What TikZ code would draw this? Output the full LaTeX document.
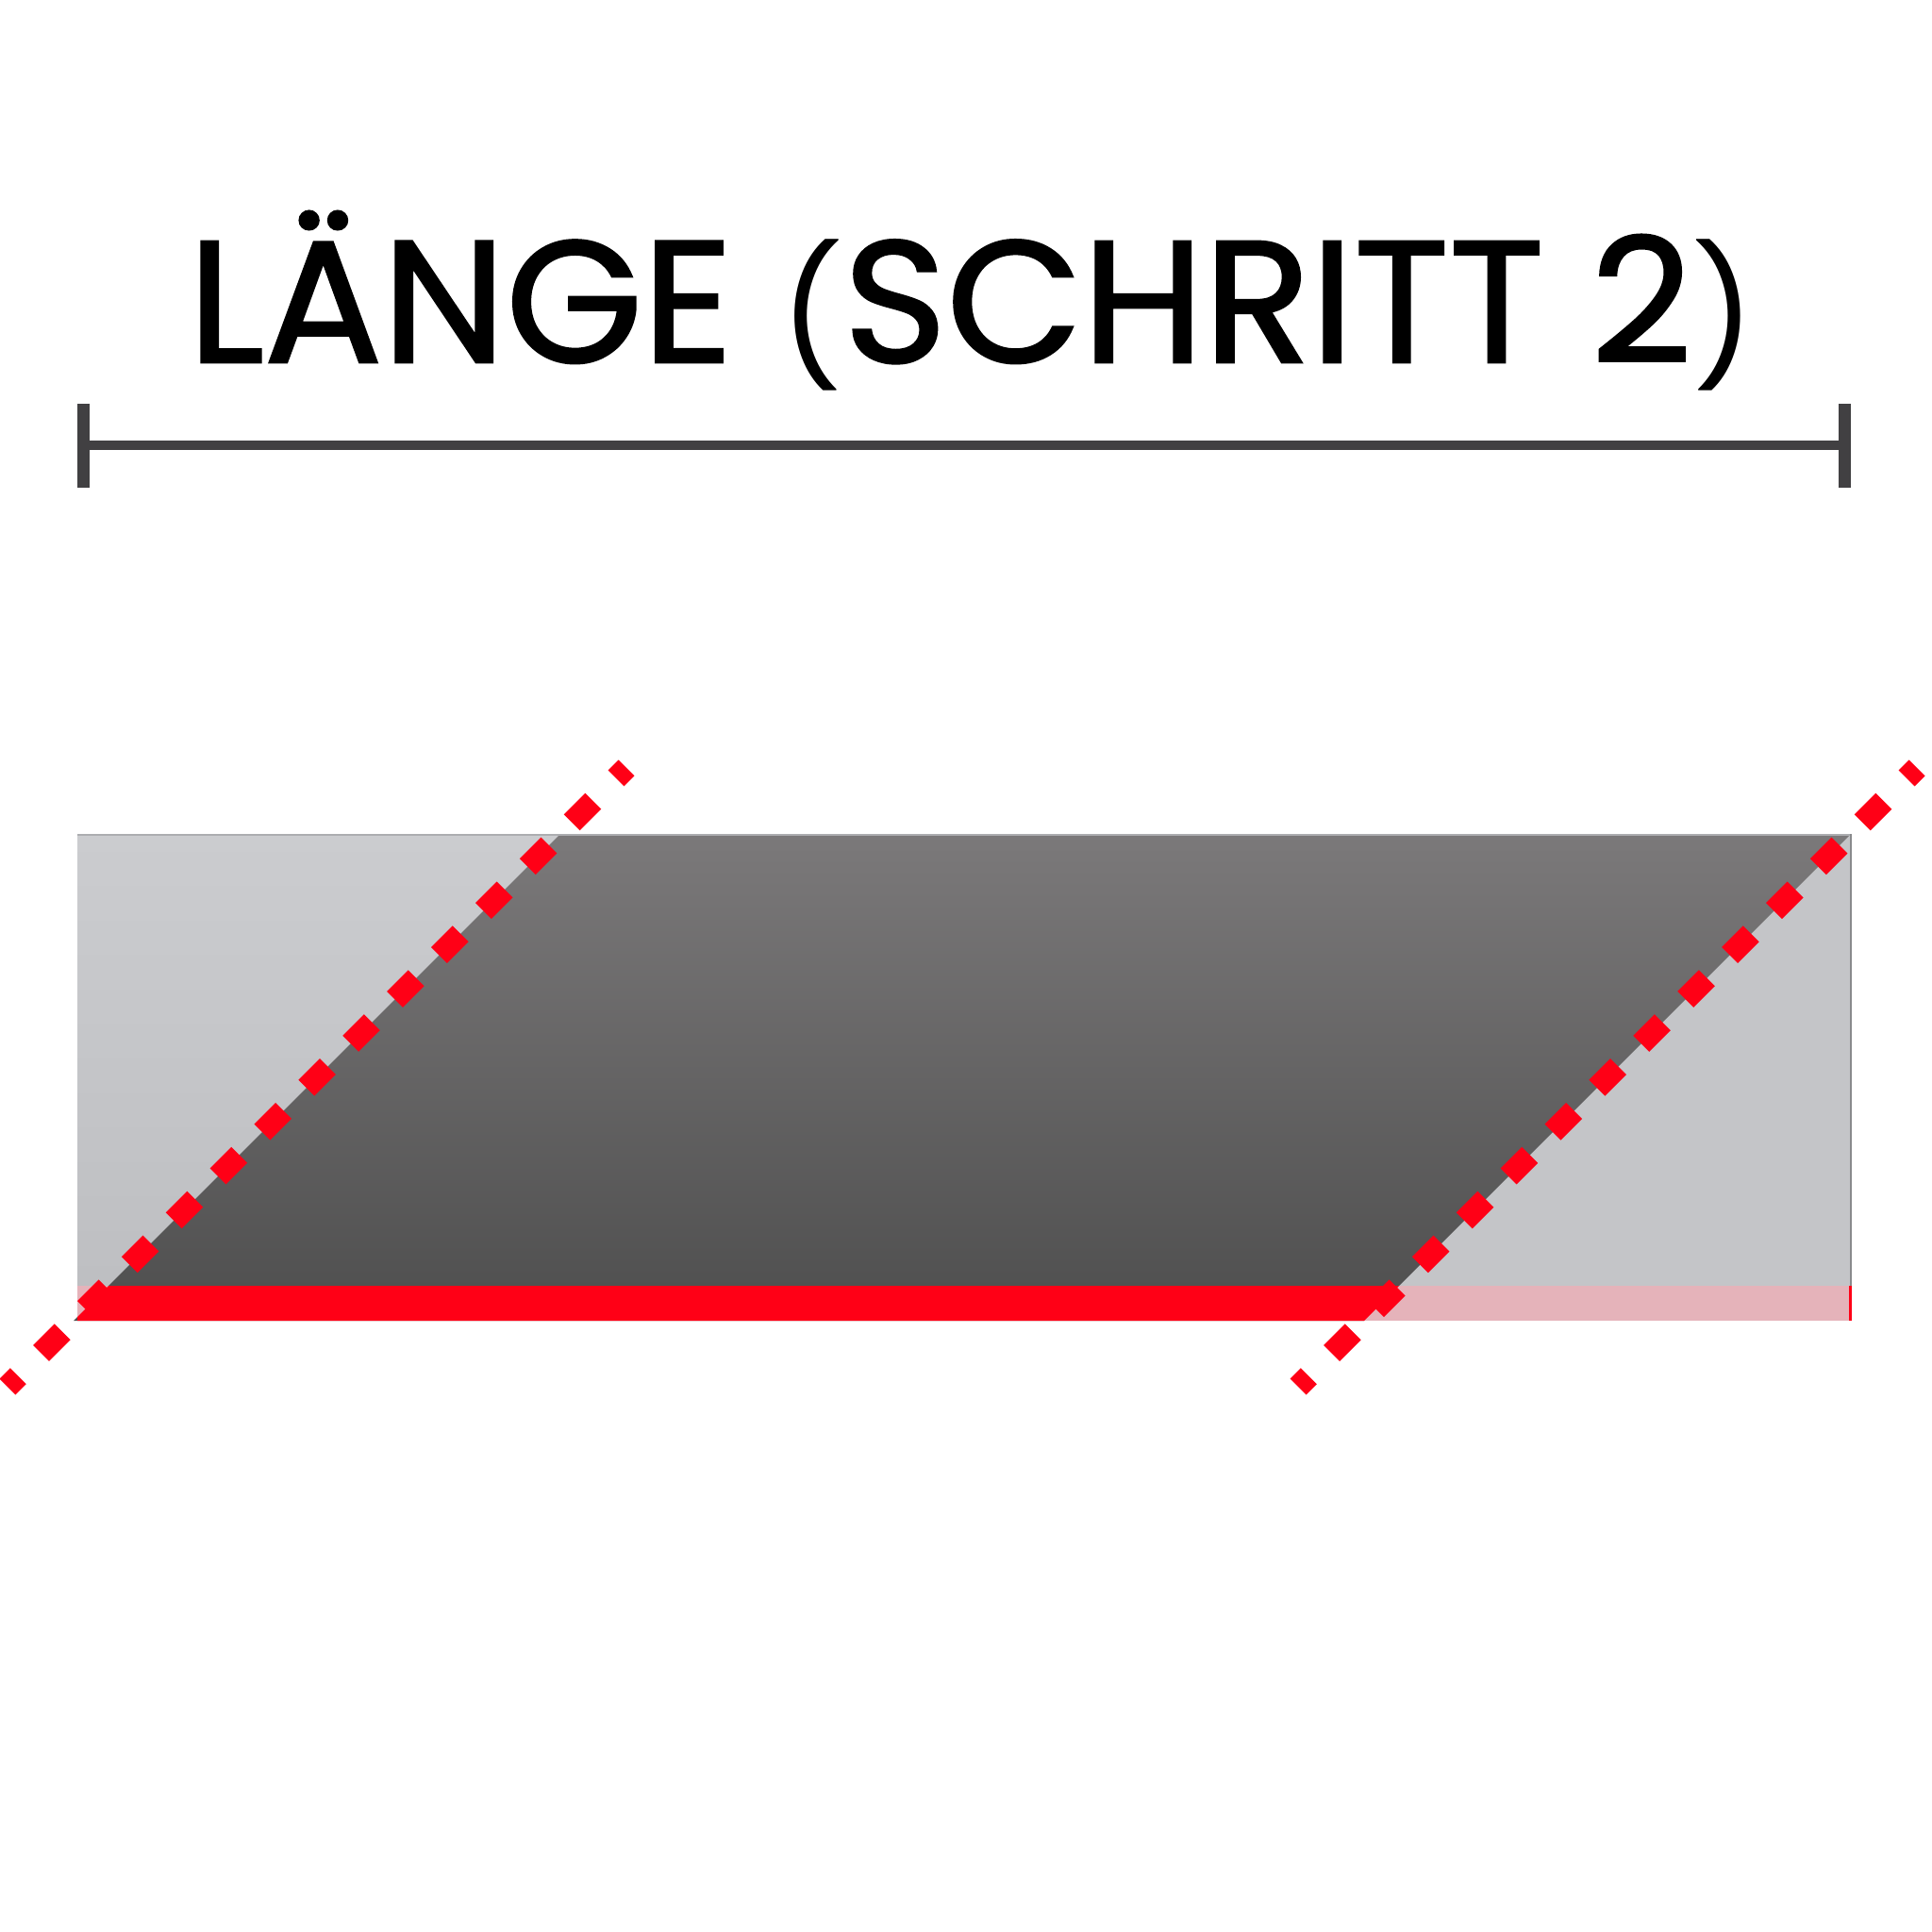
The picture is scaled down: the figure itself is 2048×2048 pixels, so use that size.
\documentclass[tikz,border=0pt]{standalone}
\usepackage{fontspec}
\usepackage{graphicx}
\newfontfamily\titlefont[FakeBold=1.5]{Poppins}
\newfontfamily\parenfont{Poppins}
\definecolor{txt}{HTML}{231F20}
\definecolor{dimc}{HTML}{414042}
\definecolor{redc}{HTML}{FF0016}
\definecolor{pinkc}{HTML}{E5B3BA}
\definecolor{lgtop}{HTML}{CBCCCF}
\definecolor{lgbot}{HTML}{BDBEC1}
\definecolor{lgr}{HTML}{C4C5C8}
\definecolor{dktop}{HTML}{7B797A}
\definecolor{dkbot}{HTML}{4E4E4E}
\newcommand\smparen[1]{\raisebox{-2pt}{\scalebox{0.8}[0.78]{\parenfont\fontsize{100}{100}\selectfont #1}}}
\newsavebox\titlebox
\newlength\capht
\sbox\titlebox{\titlefont\fontsize{100}{100}\selectfont LÄNGE \smparen{(}SCHRITT 2\smparen{)}}
\settoheight\capht{\titlefont\fontsize{100}{100}\selectfont H}
\tikzset{
  dimline/.style={draw=dimc, line width=4.5pt},
  dimtick/.style={draw=dimc, line width=6.5pt},
  cutline/.style={draw=redc, line width=12pt, dash pattern=on 16pt off 17.15pt, dash phase=8pt},
}
\begin{document}
\begin{tikzpicture}[x=0.5pt,y=-0.5pt]
\useasboundingbox (0,0) rectangle (2048,2048);
% title
\pgfmathsetmacro\sx{831pt/\wd\titlebox}
\pgfmathsetmacro\sy{64pt/\capht}
\node[anchor=base west, inner sep=0pt, text=txt] (title) at (199,384) {\scalebox{\sx}[\sy]{\usebox\titlebox}};
% dimension line
\coordinate (dl) at (88.5,472);
\coordinate (dr) at (1955,472);
\draw[dimline] (dl) -- (dr);
\draw[dimtick] ([yshift=22pt]dl) -- ([yshift=-22.5pt]dl);
\draw[dimtick] ([yshift=22pt]dr) -- ([yshift=-22.5pt]dr);
% panel
\fill[lgr] (82,884) rectangle (1962,1400);
\shade[top color=lgtop, bottom color=lgbot] (82,884) -- (594,884) -- (82,1396) -- cycle;
\shade[top color=dktop, bottom color=dkbot] (78,1400) -- (594,884) -- (1962,884) -- (1446,1400) -- cycle;
\draw[color=lgr!88!black, line width=1pt] (82,885) -- (1962,885);
\draw[color=lgr!70!black, line width=1pt] (1961.5,884) -- (1961.5,1363);
% bar
\fill[pinkc] (82,1363) rectangle (1962,1400);
\begin{scope}
\clip (82,1363) rectangle (1962,1400);
\fill[redc] (78,1400) -- (594,884) -- (1962,884) -- (1446,1400) -- cycle;
\end{scope}
\draw[redc, line width=1.5pt] (1961,1363) -- (1961,1400);
% cut lines
\coordinate (la) at (8,1470);
\coordinate (lb) at (664,814);
\coordinate (ra) at (1376,1470);
\coordinate (rb) at (2032,814);
\draw[cutline] (la) -- (lb);
\draw[cutline] (ra) -- (rb);
\end{tikzpicture}
\end{document}
